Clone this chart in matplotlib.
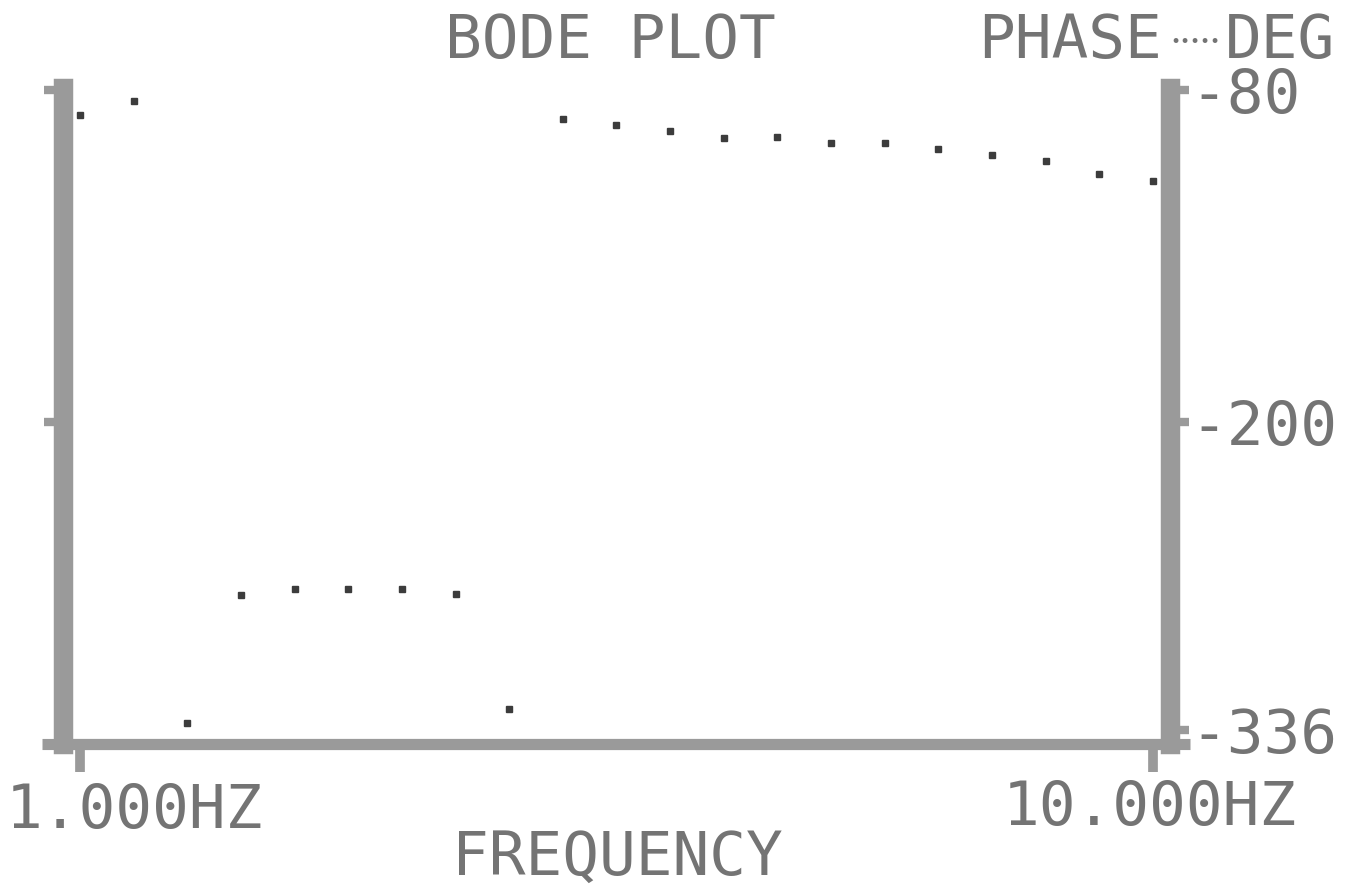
import matplotlib
matplotlib.use("Agg")
import matplotlib.pyplot as plt
from matplotlib.ticker import FixedLocator, NullLocator

# Data (21 log-spaced frequencies, 1 kHz to 10 kHz)
freq_hz = [1000, 1122, 1259, 1413, 1585, 1778, 1995, 2239, 2512, 2818, 3162,
           3548, 3981, 4467, 5012, 5623, 6310, 7079, 7943, 8913, 10000]
phase_deg = [-90.0, -84.4, -333.2, -282.0, -279.6, -279.6, -279.6, -281.6,
             -327.6, -91.6, -94.0, -96.4, -99.2, -98.8, -101.2, -101.2,
             -103.6, -106.0, -108.4, -113.6, -116.4]

phase_ticks = [-80, -213, -336]
phase_labels = ["-80", "-200", "-336"]
freq_ticks = [1000, 10000]

ink = "#747474"
bar = "#9a9a9a"
mono = "DejaVu Sans Mono"

fig = plt.figure(figsize=(13.51, 8.85), dpi=100)
ax = fig.add_axes([0.0466, 0.1593, 0.8194, 0.7413])

# Points only, as the printer plotted them
ax.plot(freq_hz, phase_deg, linestyle="none", marker="s", markersize=4.5,
        color="#3c3c3c")

ax.set_xscale("log")
ax.set_xlim(964.2, 10371)
ax.set_ylim(-341.6, -79.2)

# Heavy dot-matrix style frame
ax.spines["top"].set_visible(False)
ax.spines["left"].set_linewidth(14)
ax.spines["right"].set_linewidth(14)
ax.spines["bottom"].set_linewidth(8)
for s in ["left", "right", "bottom"]:
    ax.spines[s].set_color(bar)
ax.plot([-0.019, 1.018], [0, 0], transform=ax.transAxes, color=bar,
        linewidth=8, clip_on=False, solid_capstyle="butt")

ax.xaxis.set_major_locator(FixedLocator(freq_ticks))
ax.xaxis.set_minor_locator(NullLocator())
ax.set_xticklabels([])
ax.tick_params(axis="x", direction="out", length=20, width=7, color=bar)

ax.yaxis.set_major_locator(FixedLocator(phase_ticks))
ax.set_yticklabels(phase_labels)
ax.tick_params(axis="y", direction="out", length=14, width=6, color=bar,
               left=True, right=True, labelleft=False, labelright=True,
               pad=1, labelsize=44, labelcolor=ink)
ax.yaxis.get_major_ticks()[2].tick1line.set_visible(False)
for lbl in ax.get_yticklabels():
    lbl.set_family(mono)

# Titles and axis texts
fig.text(0.3294, 0.9345, "BODE PLOT", family=mono, fontsize=44, color=ink,
         ha="left", va="baseline")
fig.text(0.7239, 0.9345, "PHASE", family=mono, fontsize=44, color=ink,
         ha="left", va="baseline")
fig.text(0.8660, 0.9520, "\u2022\u2022\u2022\u2022\u2022", family=mono,
         fontsize=12, color=ink, ha="left", va="center")
fig.text(0.9882, 0.9345, "DEG", family=mono, fontsize=44, color=ink,
         ha="right", va="baseline")
fig.text(0.0040, 0.0644, "1.000HZ", family=mono, fontsize=44, color=ink,
         ha="left", va="baseline")
fig.text(0.7420, 0.0678, "10.000HZ", family=mono, fontsize=44, color=ink,
         ha="left", va="baseline")
fig.text(0.3346, 0.0120, "FREQUENCY", family=mono, fontsize=44, color=ink,
         ha="left", va="baseline")

fig.savefig("out.png", dpi=100)
